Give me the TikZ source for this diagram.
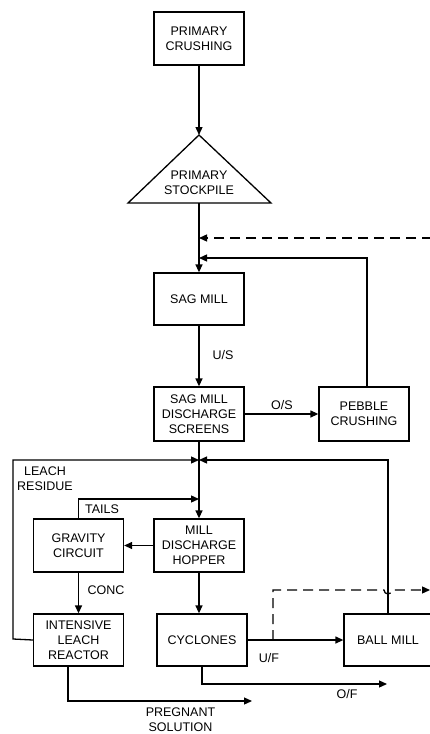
\documentclass[tikz,border=0pt]{standalone}
\usepackage{fontspec}
\setmainfont{Liberation Sans}
\usetikzlibrary{arrows.meta}
\begin{document}
\begin{tikzpicture}[x=1pt,y=-1pt,line width=1.3pt,
  >={Triangle[length=8pt,width=7pt]},
  box/.style={draw,minimum width=90pt,minimum height=53pt,inner sep=0pt,align=center,font=\fontsize{12.5}{15}\selectfont},
  lbl/.style={align=center,inner sep=0pt,font=\fontsize{12.5}{15}\selectfont},
  recyc/.style={dash pattern=on 10pt off 6pt}]
\useasboundingbox (0,0) rectangle (430,734);
\clip (0,0) rectangle (430,734);
% nodes
\node[box] (pc) at (199,38.5) {PRIMARY\\CRUSHING};
\coordinate (apex) at (199,135);
\coordinate (psb) at (199,203);
\draw (apex) -- (271,203) -- (128,203) -- cycle;
\node[lbl] (ps) at (199,182.5) {PRIMARY\\STOCKPILE};
\node[box,minimum height=52pt] (sag) at (199,299) {SAG MILL};
\node[box,minimum height=54pt] (scr) at (199,414) {SAG MILL\\DISCHARGE\\SCREENS};
\node[box,minimum height=54pt] (peb) at (364,414) {PEBBLE\\CRUSHING};
\node[box] (hop) at (199,545.5) {MILL\\DISCHARGE\\HOPPER};
\node[box] (grav) at (78.5,545.5) {GRAVITY\\CIRCUIT};
\node[box,minimum height=52pt] (ilr) at (78.5,640) {INTENSIVE\\LEACH\\REACTOR};
\node[box,minimum height=52pt] (cyc) at (202,640) {CYCLONES};
\node[box,minimum height=52pt,minimum width=88pt] (ball) at (388,640) {BALL MILL};
% coordinates
\coordinate (jd) at (199,238);
\coordinate (jp) at (199,258);
\coordinate (dr) at (432,238);
\coordinate (j1) at (199,460);
\coordinate (j2) at (199,499);
\coordinate (lr) at (13,639);
\coordinate (uf) at (273,640);
\coordinate (ufr) at (430,590);
\coordinate (of) at (387,684);
\coordinate (pg) at (252,701);
% connectors
\draw[->] (pc.south) -- (apex);
\draw[->] (psb) -- (sag.north);
\draw[->,recyc] (dr) -- (jd);
\draw[->] ([xshift=3pt]peb.north) |- (jp);
\draw[->] (sag.south) -- (scr.north);
\draw[->] (scr.east) -- (peb.west);
\draw[->] (scr.south) -- (hop.north);
\draw[->] (ilr.west) -- (lr) |- (j1);
\draw[->] (ball.north) |- (j1);
\draw[->] (grav.north) |- (j2);
\draw[->] (hop.west) -- (grav.east);
\draw[->] (grav.south) -- (ilr.north);
\draw[->] (hop.south) -- (hop.south |- cyc.north);
\draw[->] (cyc.east) -- (ball.west);
\draw[->,recyc] (uf) -- (273,590) -- (384,590) arc (180:0:4) -- (ufr);
\draw[->] (cyc.south) |- (of);
\draw[->] ([xshift=-10.5pt]ilr.south) |- (pg);
% labels
\node[lbl] (us) at (223,355) {U/S};
\node[lbl] (os) at (282,405) {O/S};
\node[lbl] (lres) at (45,479) {LEACH\\RESIDUE};
\node[lbl] (tails) at (102,509) {TAILS};
\node[lbl] (conc) at (106,590) {CONC};
\node[lbl] (ufl) at (269,658) {U/F};
\node[lbl] (ofl) at (347,694) {O/F};
\node[lbl] (preg) at (180.5,719.5) {PREGNANT\\SOLUTION};
\end{tikzpicture}
\end{document}
